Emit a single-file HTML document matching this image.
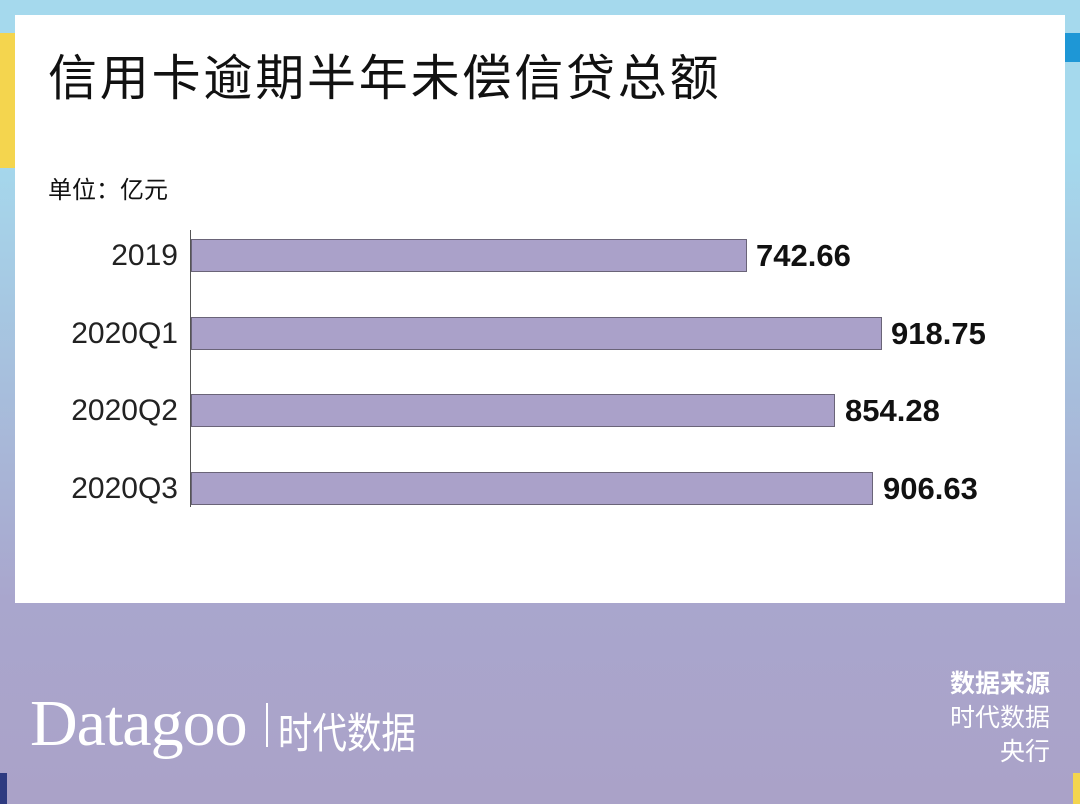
<!DOCTYPE html>
<html><head><meta charset="utf-8"><style>
body{margin:0;width:1080px;height:804px;overflow:hidden;position:relative;font-family:"Liberation Sans","Noto Sans CJK SC",sans-serif;
background:linear-gradient(to bottom,#a5d9ed 0px,#a5d9ed 150px,#a9a6cd 600px,#aaa2c8 804px);}
.a{position:absolute}
.bar{position:absolute;left:191px;height:33px;background:#aaa1c9;border:1px solid #6a6478;box-sizing:border-box}
.lab{position:absolute;right:902px;font-size:30px;color:#222;width:200px;text-align:right}
.val{position:absolute;font-size:31px;font-weight:bold;color:#111}
</style></head><body>
<div class="a" style="left:15px;top:15px;width:1050px;height:588px;background:#fff"></div>
<div class="a" style="left:0;top:33px;width:15px;height:135px;background:#f4d54e"></div>
<div class="a" style="left:1065px;top:33px;width:15px;height:29px;background:#1e97d6"></div>
<div class="a" style="left:0;top:773px;width:7px;height:31px;background:#2e3a80"></div>
<div class="a" style="left:1073px;top:773px;width:7px;height:31px;background:#f4d54e"></div>
<div class="a" style="left:48px;top:39px;font-size:49px;color:#111;letter-spacing:2.8px">信用卡逾期半年未偿信贷总额</div>
<div class="a" style="left:48px;top:170px;font-size:24px;color:#111">单位：亿元</div>
<div class="a" style="left:190px;top:230px;width:1px;height:277px;background:#555"></div>
<div class="bar" style="top:239px;width:556px"></div>
<div class="bar" style="top:317px;width:691px"></div>
<div class="bar" style="top:394px;width:644px"></div>
<div class="bar" style="top:472px;width:682px"></div>
<div class="lab" style="top:239px">2019</div>
<div class="lab" style="top:317px">2020Q1</div>
<div class="lab" style="top:394px">2020Q2</div>
<div class="lab" style="top:472px">2020Q3</div>
<div class="val" style="left:756px;top:238px">742.66</div>
<div class="val" style="left:891px;top:316px">918.75</div>
<div class="val" style="left:845px;top:393px">854.28</div>
<div class="val" style="left:883px;top:471px">906.63</div>
<div class="a" style="left:30px;top:686px;font-family:'Liberation Serif',serif;font-size:66px;color:#fff;letter-spacing:-1px">Datagoo</div>
<div class="a" style="left:266px;top:703px;width:2px;height:44px;background:#fff"></div>
<div class="a" style="left:278px;top:700px;font-size:42px;color:#fff;transform:scaleX(0.82);transform-origin:left">时代数据</div>
<div class="a" style="right:30px;top:667px;font-size:25px;color:#fff;font-weight:bold;text-align:right;line-height:34px">数据来源<br><span style="font-weight:normal">时代数据<br>央行</span></div>
</body></html>
